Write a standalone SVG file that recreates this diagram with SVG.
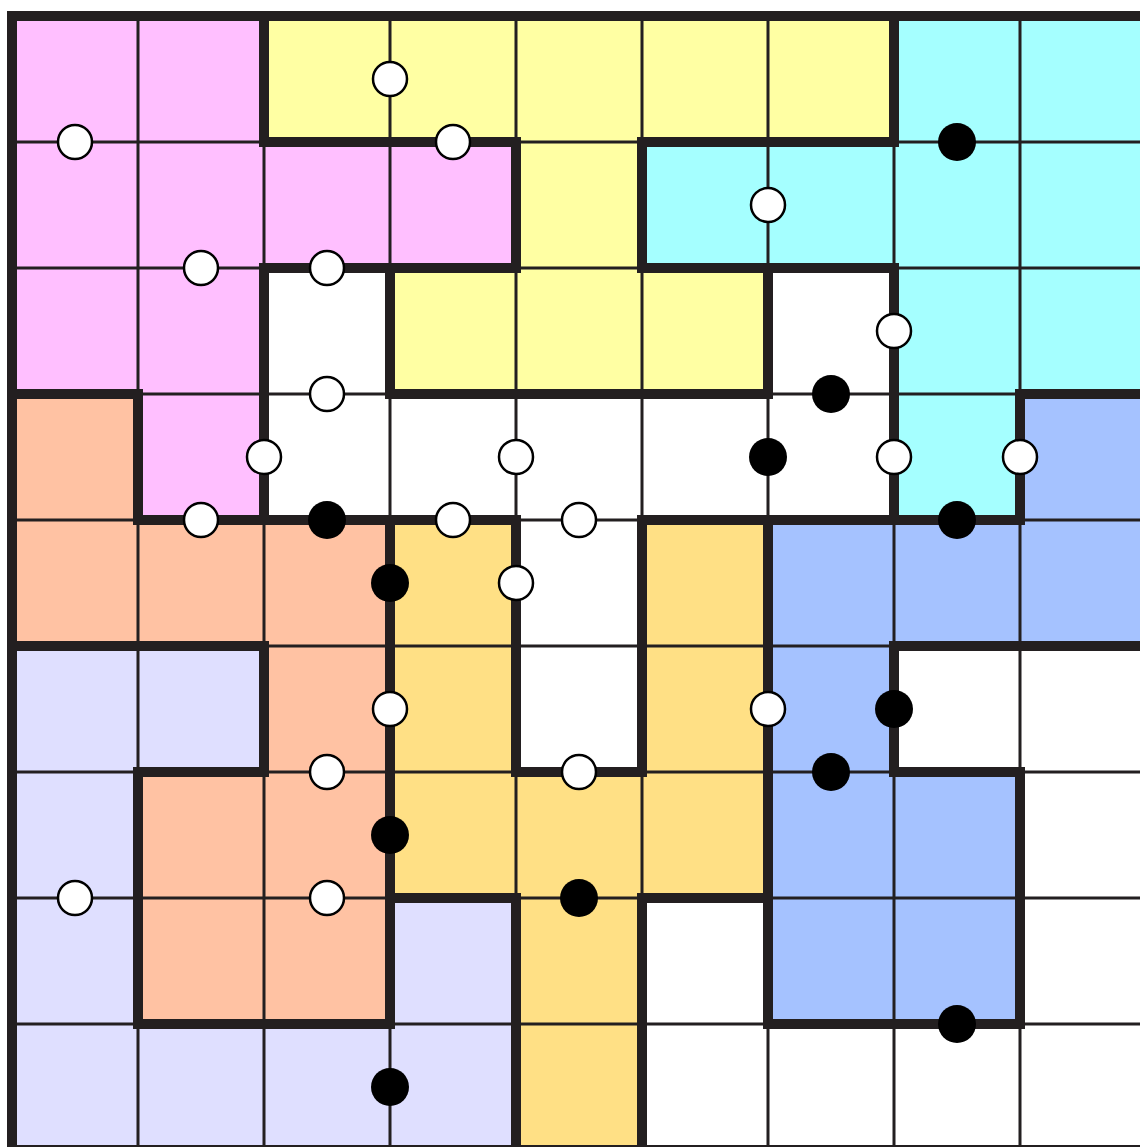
<svg xmlns="http://www.w3.org/2000/svg" width="1140" height="1147" viewBox="0 0 1140 1147">
<style>
.P{fill:#FFBFFF}.Y{fill:#FFFFA3}.C{fill:#A5FFFF}.W{fill:#FFFFFF}.O{fill:#FFC2A3}.G{fill:#FFE085}.B{fill:#A5C2FF}.L{fill:#DFDFFF}
.thin{stroke:#231F20;stroke-width:3;fill:none}
.thick{stroke:#231F20;stroke-width:10;fill:none;stroke-linecap:square}
.border{stroke:#231F20;stroke-width:10;fill:none}
.wd{fill:#FFFFFF;stroke:#000;stroke-width:2.5}
.bd{fill:#000}
</style>
<rect width="1140" height="1147" fill="#FFFFFF"/>
<g id="cells">
<!-- row 0 -->
<rect class="P" x="12" y="16" width="126" height="126"/><rect class="P" x="138" y="16" width="126" height="126"/><rect class="Y" x="264" y="16" width="126" height="126"/><rect class="Y" x="390" y="16" width="126" height="126"/><rect class="Y" x="516" y="16" width="126" height="126"/><rect class="Y" x="642" y="16" width="126" height="126"/><rect class="Y" x="768" y="16" width="126" height="126"/><rect class="C" x="894" y="16" width="126" height="126"/><rect class="C" x="1020" y="16" width="126" height="126"/>
<!-- row 1 -->
<rect class="P" x="12" y="142" width="126" height="126"/><rect class="P" x="138" y="142" width="126" height="126"/><rect class="P" x="264" y="142" width="126" height="126"/><rect class="P" x="390" y="142" width="126" height="126"/><rect class="Y" x="516" y="142" width="126" height="126"/><rect class="C" x="642" y="142" width="126" height="126"/><rect class="C" x="768" y="142" width="126" height="126"/><rect class="C" x="894" y="142" width="126" height="126"/><rect class="C" x="1020" y="142" width="126" height="126"/>
<!-- row 2 -->
<rect class="P" x="12" y="268" width="126" height="126"/><rect class="P" x="138" y="268" width="126" height="126"/><rect class="W" x="264" y="268" width="126" height="126"/><rect class="Y" x="390" y="268" width="126" height="126"/><rect class="Y" x="516" y="268" width="126" height="126"/><rect class="Y" x="642" y="268" width="126" height="126"/><rect class="W" x="768" y="268" width="126" height="126"/><rect class="C" x="894" y="268" width="126" height="126"/><rect class="C" x="1020" y="268" width="126" height="126"/>
<!-- row 3 -->
<rect class="O" x="12" y="394" width="126" height="126"/><rect class="P" x="138" y="394" width="126" height="126"/><rect class="W" x="264" y="394" width="126" height="126"/><rect class="W" x="390" y="394" width="126" height="126"/><rect class="W" x="516" y="394" width="126" height="126"/><rect class="W" x="642" y="394" width="126" height="126"/><rect class="W" x="768" y="394" width="126" height="126"/><rect class="C" x="894" y="394" width="126" height="126"/><rect class="B" x="1020" y="394" width="126" height="126"/>
<!-- row 4 -->
<rect class="O" x="12" y="520" width="126" height="126"/><rect class="O" x="138" y="520" width="126" height="126"/><rect class="O" x="264" y="520" width="126" height="126"/><rect class="G" x="390" y="520" width="126" height="126"/><rect class="W" x="516" y="520" width="126" height="126"/><rect class="G" x="642" y="520" width="126" height="126"/><rect class="B" x="768" y="520" width="126" height="126"/><rect class="B" x="894" y="520" width="126" height="126"/><rect class="B" x="1020" y="520" width="126" height="126"/>
<!-- row 5 -->
<rect class="L" x="12" y="646" width="126" height="126"/><rect class="L" x="138" y="646" width="126" height="126"/><rect class="O" x="264" y="646" width="126" height="126"/><rect class="G" x="390" y="646" width="126" height="126"/><rect class="W" x="516" y="646" width="126" height="126"/><rect class="G" x="642" y="646" width="126" height="126"/><rect class="B" x="768" y="646" width="126" height="126"/><rect class="W" x="894" y="646" width="126" height="126"/><rect class="W" x="1020" y="646" width="126" height="126"/>
<!-- row 6 -->
<rect class="L" x="12" y="772" width="126" height="126"/><rect class="O" x="138" y="772" width="126" height="126"/><rect class="O" x="264" y="772" width="126" height="126"/><rect class="G" x="390" y="772" width="126" height="126"/><rect class="G" x="516" y="772" width="126" height="126"/><rect class="G" x="642" y="772" width="126" height="126"/><rect class="B" x="768" y="772" width="126" height="126"/><rect class="B" x="894" y="772" width="126" height="126"/><rect class="W" x="1020" y="772" width="126" height="126"/>
<!-- row 7 -->
<rect class="L" x="12" y="898" width="126" height="126"/><rect class="O" x="138" y="898" width="126" height="126"/><rect class="O" x="264" y="898" width="126" height="126"/><rect class="L" x="390" y="898" width="126" height="126"/><rect class="G" x="516" y="898" width="126" height="126"/><rect class="W" x="642" y="898" width="126" height="126"/><rect class="B" x="768" y="898" width="126" height="126"/><rect class="B" x="894" y="898" width="126" height="126"/><rect class="W" x="1020" y="898" width="126" height="126"/>
<!-- row 8 -->
<rect class="L" x="12" y="1024" width="126" height="126"/><rect class="L" x="138" y="1024" width="126" height="126"/><rect class="L" x="264" y="1024" width="126" height="126"/><rect class="L" x="390" y="1024" width="126" height="126"/><rect class="G" x="516" y="1024" width="126" height="126"/><rect class="W" x="642" y="1024" width="126" height="126"/><rect class="W" x="768" y="1024" width="126" height="126"/><rect class="W" x="894" y="1024" width="126" height="126"/><rect class="W" x="1020" y="1024" width="126" height="126"/>
</g>
<g id="connectors">
<path class="thin" d="M138 16V1150M264 16V1150M390 16V1150M516 16V1150M642 16V1150M768 16V1150M894 16V1150M1020 16V1150M12 142H1146M12 268H1146M12 394H1146M12 520H1146M12 646H1146M12 772H1146M12 898H1146M12 1024H1146"/>
<path class="thick" d="M264 16V142M264 268V520M264 646V772M894 16V142M894 268V520M894 646V772M516 142V268M516 520V772M516 898V1150M642 142V268M642 520V772M642 898V1150M390 268V394M390 520V1024M768 268V394M768 520V1024M138 394V520M138 772V1024M1020 394V520M1020 772V1024"/>
<path class="thick" d="M264 142H516M642 142H894M264 268H516M642 268H894M12 394H138M390 394H768M1020 394H1146M138 520H516M642 520H1020M12 646H264M894 646H1146M138 772H264M516 772H642M894 772H1020M390 898H516M642 898H768M138 1024H390M768 1024H1020"/>
<rect class="border" x="12" y="16" width="1134" height="1134"/>
</g>
<g id="dots">
<circle id="d1" class="wd" cx="390" cy="79" r="17"/>
<circle id="d2" class="wd" cx="75" cy="142" r="17"/>
<circle id="d3" class="wd" cx="453" cy="142" r="17"/>
<circle id="d4" class="bd" cx="957" cy="142" r="19"/>
<circle id="d5" class="wd" cx="768" cy="205" r="17"/>
<circle id="d6" class="wd" cx="201" cy="268" r="17"/>
<circle id="d7" class="wd" cx="327" cy="268" r="17"/>
<circle id="d8" class="wd" cx="894" cy="331" r="17"/>
<circle id="d9" class="wd" cx="327" cy="394" r="17"/>
<circle id="d10" class="bd" cx="831" cy="394" r="19"/>
<circle id="d11" class="wd" cx="264" cy="457" r="17"/>
<circle id="d12" class="wd" cx="516" cy="457" r="17"/>
<circle id="d13" class="bd" cx="768" cy="457" r="19"/>
<circle id="d14" class="wd" cx="894" cy="457" r="17"/>
<circle id="d15" class="wd" cx="1020" cy="457" r="17"/>
<circle id="d16" class="wd" cx="201" cy="520" r="17"/>
<circle id="d17" class="bd" cx="327" cy="520" r="19"/>
<circle id="d18" class="wd" cx="453" cy="520" r="17"/>
<circle id="d19" class="wd" cx="579" cy="520" r="17"/>
<circle id="d20" class="bd" cx="957" cy="520" r="19"/>
<circle id="d21" class="bd" cx="390" cy="583" r="19"/>
<circle id="d22" class="wd" cx="516" cy="583" r="17"/>
<circle id="d23" class="wd" cx="390" cy="709" r="17"/>
<circle id="d24" class="wd" cx="768" cy="709" r="17"/>
<circle id="d25" class="bd" cx="894" cy="709" r="19"/>
<circle id="d26" class="wd" cx="327" cy="772" r="17"/>
<circle id="d27" class="wd" cx="579" cy="772" r="17"/>
<circle id="d28" class="bd" cx="831" cy="772" r="19"/>
<circle id="d29" class="bd" cx="390" cy="835" r="19"/>
<circle id="d30" class="wd" cx="75" cy="898" r="17"/>
<circle id="d31" class="wd" cx="327" cy="898" r="17"/>
<circle id="d32" class="bd" cx="579" cy="898" r="19"/>
<circle id="d33" class="bd" cx="957" cy="1024" r="19"/>
<circle id="d34" class="bd" cx="390" cy="1087" r="19"/>
</g>
</svg>
